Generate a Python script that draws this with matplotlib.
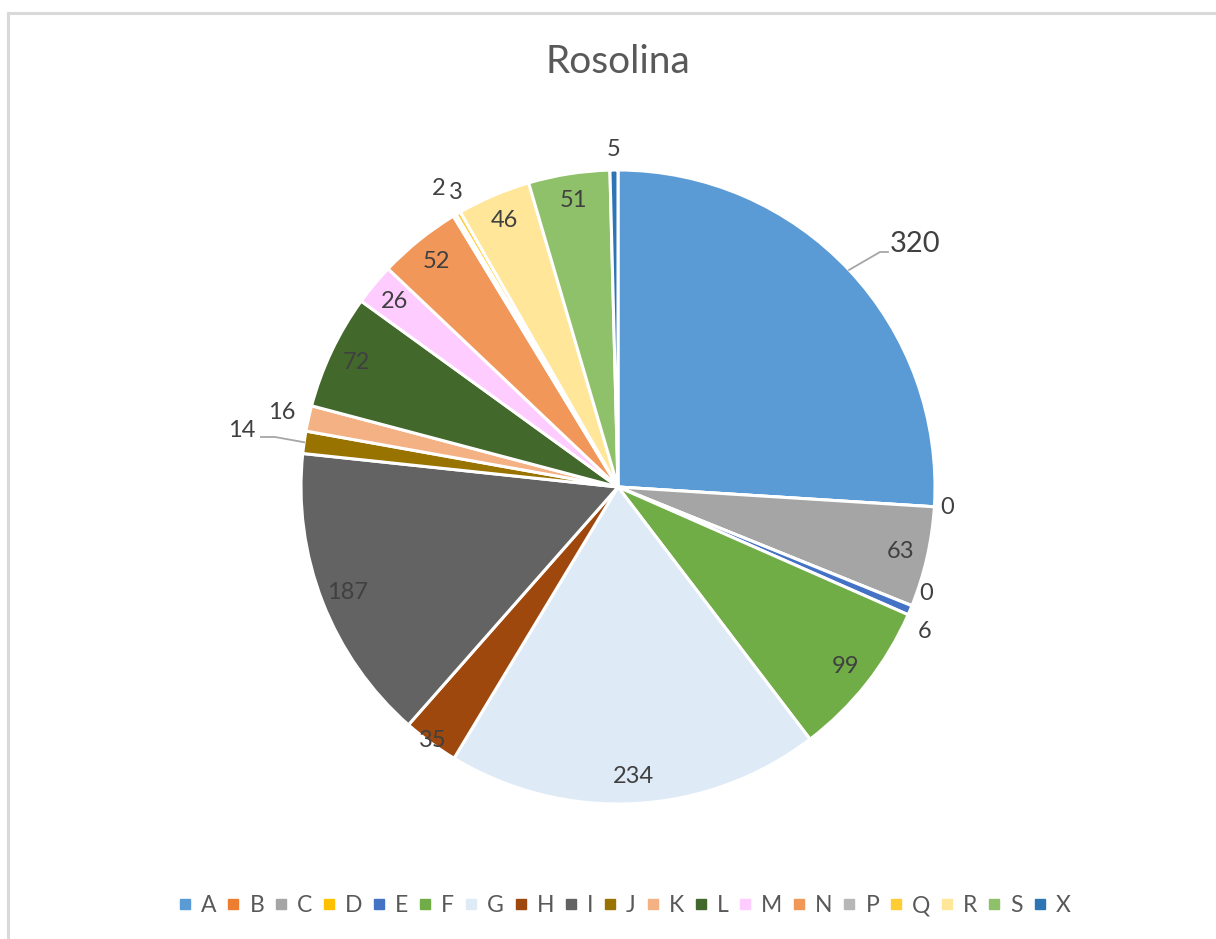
import numpy as np
import matplotlib
matplotlib.use("Agg")
import matplotlib.pyplot as plt
from matplotlib.lines import Line2D

plt.rcParams['font.family'] = ['Lato', 'DejaVu Sans']

# data
categories = ['A', 'B', 'C', 'D', 'E', 'F', 'G', 'H', 'I', 'J',
              'K', 'L', 'M', 'N', 'P', 'Q', 'R', 'S', 'X']
values = [320, 0, 63, 0, 6, 99, 234, 35, 187, 14,
          16, 72, 26, 52, 2, 3, 46, 51, 5]
colors = ['#5B9BD5', '#ED7D31', '#A5A5A5', '#FFC000', '#4472C4', '#70AD47',
          '#DEEBF7', '#9E480E', '#636363', '#997300', '#F4B183', '#43682B',
          '#FFCCFF', '#F1975A', '#B7B7B7', '#FFCD33', '#FFE699', '#8FC16B',
          '#2E75B6']
title = 'Rosolina'

# label placement: radius factor and angle nudge (deg) per slice
lab_r = [1.21, 1.04, 0.915, 1.03, 1.07, 0.915, 0.915, 0.99, 0.915, 1.2,
         1.085, 0.915, 0.915, 0.915, 1.1, 1.06, 0.915, 0.915, 1.065]
lab_da = [-3.9, 0, 0, 2.9, -2.4, 0, 0, 0, 0, -0.4,
          0, 0, 0, 0, 0, -1.4, 0, 0, 0]

W, H = 1216, 939
fig = plt.figure(figsize=(W / 100, H / 100), dpi=100)

# chart area border (left and top edges visible)
fig.add_artist(Line2D([8 / W, 8 / W], [0, 1 - 13 / H], transform=fig.transFigure,
                      color='#D9D9D9', lw=2.2))
fig.add_artist(Line2D([8 / W, 1], [1 - 13 / H, 1 - 13 / H], transform=fig.transFigure,
                      color='#D9D9D9', lw=2.2))

cx, cy, R = 618, H - 487, 317
ax = fig.add_axes([(cx - R) / W, (cy - R) / H, 2 * R / W, 2 * R / H])

wedges, _ = ax.pie(values, colors=colors, startangle=90, counterclock=False,
                   radius=1, wedgeprops=dict(edgecolor='white', linewidth=2.2))
ax.set_xlim(-1, 1)
ax.set_ylim(-1, 1)
ax.axis('off')

total = float(sum(values))
start = 90.0
for i, v in enumerate(values):
    span = v / total * 360
    mid = start - span / 2
    start -= span
    ang = np.deg2rad(mid + lab_da[i])
    r = lab_r[i]
    x, y = r * np.cos(ang), r * np.sin(ang)
    fs = 17
    a0 = np.deg2rad(mid)
    ex, ey = np.cos(a0), np.sin(a0)
    if categories[i] == 'A':
        fs = 21
        # leader line
        ly = (487 - 252) / R
        ax.plot([ex, (880 - cx) / R, (888 - cx) / R], [ey, ly, ly],
                color='#A6A6A6', lw=1.3, clip_on=False)
    if categories[i] == 'J':
        ly = (487 - 437) / R
        ax.plot([ex, (275 - cx) / R, (261 - cx) / R], [ey, ly, ly],
                color='#A6A6A6', lw=1.3, clip_on=False)
    ax.text(x, y, str(v), ha='center', va='center', fontsize=fs,
            color='#404040', clip_on=False)

fig.text(cx / W, 1 - 62 / H, title, ha='center', va='center',
         fontsize=28, color='#595959')

handles = [Line2D([], [], marker='s', linestyle='none', markersize=6.5,
                  markerfacecolor=c, markeredgecolor=c) for c in colors]
fig.legend(handles, categories, loc='center', bbox_to_anchor=(625 / W, 1 - 906 / H),
           ncol=len(categories), frameon=False, fontsize=16.5, labelcolor='#595959',
           handlelength=0.5, handletextpad=0.45, columnspacing=0.48,
           borderaxespad=0, borderpad=0)

fig.savefig('out.png', dpi=100)
